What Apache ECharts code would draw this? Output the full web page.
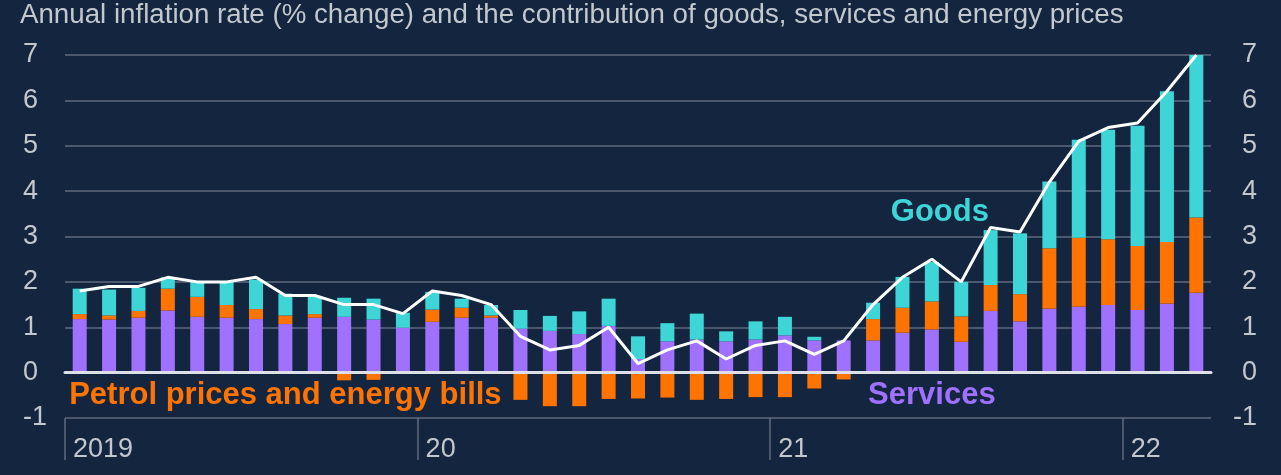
<!DOCTYPE html>
<html>
<head>
<meta charset="utf-8">
<style>
  html, body { margin: 0; padding: 0; background: #13253f; }
  #chart { width: 1281px; height: 475px; }
</style>
<script src="https://cdn.jsdelivr.net/npm/echarts@6/dist/echarts.min.js"></script>
</head>
<body>
<div id="chart"></div>
<script>
// Jan 2019 .. Mar 2022, one entry per month
const months = [
  '2019-01', '2019-02', '2019-03', '2019-04', '2019-05', '2019-06', '2019-07', '2019-08', '2019-09', '2019-10', '2019-11', '2019-12',
  '2020-01', '2020-02', '2020-03', '2020-04', '2020-05', '2020-06', '2020-07', '2020-08', '2020-09', '2020-10', '2020-11', '2020-12',
  '2021-01', '2021-02', '2021-03', '2021-04', '2021-05', '2021-06', '2021-07', '2021-08', '2021-09', '2021-10', '2021-11', '2021-12',
  '2022-01', '2022-02', '2022-03'
]
const yearLabels = ['2019', '20', '21', '22']

// contributions, percentage points
const services = [
  1.18, 1.17, 1.21, 1.37, 1.23, 1.21, 1.18, 1.07, 1.21, 1.23, 1.17, 0.99,
  1.12, 1.21, 1.21, 0.97, 0.92, 0.85, 1.03, 0.30, 0.69, 0.73, 0.69, 0.73,
  0.82, 0.71, 0.71, 0.71, 0.88, 0.95, 0.68, 1.36, 1.13, 1.41, 1.45, 1.49,
  1.38, 1.52, 1.76
]
const energy = [
  0.11, 0.09, 0.15, 0.48, 0.44, 0.28, 0.22, 0.19, 0.08, -0.17, -0.16, 0,
  0.27, 0.22, 0.05, -0.60, -0.74, -0.74, -0.58, -0.57, -0.55, -0.60, -0.58, -0.54,
  -0.54, -0.35, -0.15, 0.47, 0.55, 0.62, 0.56, 0.57, 0.60, 1.33, 1.52, 1.45,
  1.41, 1.36, 1.66
]
const goods = [
  0.56, 0.57, 0.51, 0.25, 0.33, 0.51, 0.65, 0.48, 0.39, 0.42, 0.46, 0.33,
  0.39, 0.20, 0.23, 0.41, 0.33, 0.50, 0.60, 0.50, 0.40, 0.57, 0.22, 0.40,
  0.41, 0.08, 0, 0.36, 0.68, 0.87, 0.76, 1.21, 1.34, 1.47, 2.16, 2.41,
  2.65, 3.32, 3.61
]
// annual CPI inflation, %
const inflation = [
  1.8, 1.9, 1.9, 2.1, 2.0, 2.0, 2.1, 1.7, 1.7, 1.5, 1.5, 1.3,
  1.8, 1.7, 1.5, 0.8, 0.5, 0.6, 1.0, 0.2, 0.5, 0.7, 0.3, 0.6,
  0.7, 0.4, 0.7, 1.5, 2.1, 2.5, 2.0, 3.2, 3.1, 4.2, 5.1, 5.4,
  5.5, 6.2, 7.0
]

const textColor = '#c3c7ce'
const gridColor = '#5f6a7e'
const fontFamily = '"Liberation Sans", Arial, sans-serif'

const chart = echarts.init(document.getElementById('chart'))

const yAxisBase = {
  type: 'value',
  min: -1,
  max: 7,
  interval: 1,
  axisLine: { show: false },
  axisTick: { show: false }
}

chart.setOption({
  backgroundColor: '#13253f',
  animation: false,
  textStyle: { fontFamily: fontFamily },
  title: {
    text: 'Annual inflation rate (% change) and the contribution of goods, services and energy prices',
    left: 20,
    top: 1,
    padding: 0,
    textStyle: { color: textColor, fontSize: 27.7, fontWeight: 'normal', fontFamily: fontFamily }
  },
  grid: { left: 65, right: 70, top: 55, bottom: 57 },
  xAxis: [{
    // bars, and the zero line
    type: 'category',
    data: months,
    position: 'bottom',
    boundaryGap: true,
    z: 5,
    axisLine: { show: true, onZero: true, lineStyle: { color: '#dde1e7', width: 3 } },
    axisTick: { show: false },
    axisLabel: { show: false },
    splitLine: { show: false }
  }, {
    // month boundaries, for the year separators
    type: 'category',
    data: months.concat(['']),
    position: 'bottom',
    boundaryGap: false,
    axisLine: { show: false, onZero: false },
    axisTick: {
      show: true,
      length: 42,
      interval: (i) => i % 12 === 0,
      lineStyle: { color: gridColor, width: 1.5 }
    },
    axisLabel: {
      show: true,
      interval: (i) => i % 12 === 0,
      formatter: (v, i) => yearLabels[i / 12] || '',
      align: 'left',
      verticalAlign: 'top',
      margin: 18,
      padding: [0, 0, 0, 8],
      color: textColor,
      fontSize: 27
    },
    splitLine: { show: false }
  }],
  yAxis: [
    Object.assign({}, yAxisBase, {
      position: 'left',
      axisLabel: { align: 'left', margin: 42, color: textColor, fontSize: 27 },
      splitLine: { show: true, lineStyle: { color: gridColor, width: 1.5 } }
    }),
    Object.assign({}, yAxisBase, {
      position: 'right',
      axisLabel: { align: 'right', margin: 46, color: textColor, fontSize: 27 },
      splitLine: { show: false }
    })
  ],
  series: [{
    name: 'Services',
    type: 'bar',
    stack: 'cpi',
    barWidth: 14,
    data: services,
    itemStyle: { color: '#a071ff' },
    markPoint: {
      symbol: 'rect',
      symbolSize: 1,
      itemStyle: { color: 'rgba(0,0,0,0)' },
      label: { show: true, position: 'inside', formatter: 'Services', color: '#a071ff', fontSize: 31, fontWeight: 'bold' },
      data: [{ coord: [29, -0.5] }]
    }
  }, {
    name: 'Petrol prices and energy bills',
    type: 'bar',
    stack: 'cpi',
    barWidth: 14,
    data: energy,
    itemStyle: { color: '#ff7300' },
    markPoint: {
      symbol: 'rect',
      symbolSize: 1,
      itemStyle: { color: 'rgba(0,0,0,0)' },
      label: { show: true, position: 'inside', formatter: 'Petrol prices and energy bills', color: '#ff7300', fontSize: 31, fontWeight: 'bold' },
      data: [{ coord: [7, -0.5] }]
    }
  }, {
    name: 'Goods',
    type: 'bar',
    stack: 'cpi',
    barWidth: 14,
    data: goods,
    itemStyle: { color: '#3dd5d6' },
    markPoint: {
      symbol: 'rect',
      symbolSize: 1,
      itemStyle: { color: 'rgba(0,0,0,0)' },
      label: { show: true, position: 'inside', formatter: 'Goods', color: '#3dd5d6', fontSize: 31, fontWeight: 'bold', offset: [8, 0] },
      data: [{ coord: [29, 3.53] }]
    }
  }, {
    name: 'Inflation',
    type: 'line',
    data: inflation,
    symbol: 'none',
    z: 10,
    lineStyle: { color: '#ffffff', width: 3 }
  }]
})
</script>
</body>
</html>
